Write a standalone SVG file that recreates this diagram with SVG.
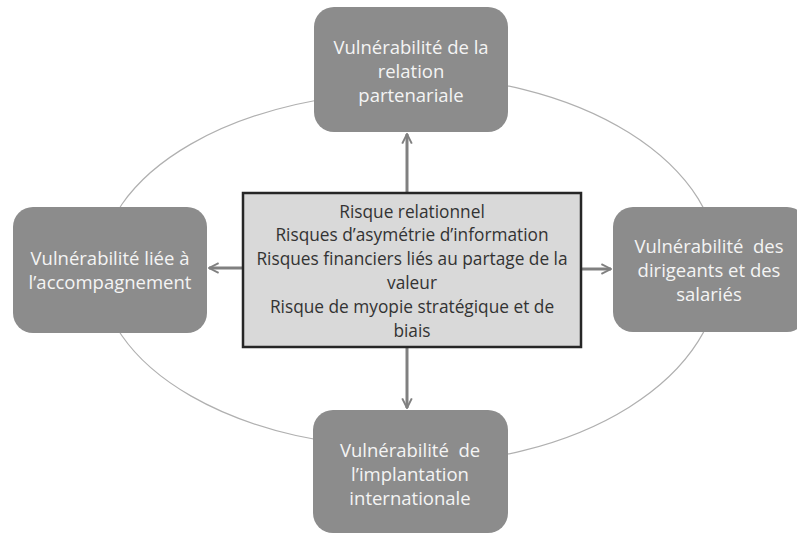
<svg xmlns="http://www.w3.org/2000/svg" width="797" height="535" viewBox="0 0 797 535">
<style>
.box{fill:#8c8c8c;}
.bt{font-family:"Open Sans","Liberation Sans",sans-serif;font-size:18.5px;fill:#f4f4f4;text-anchor:middle;}
.ct{font-family:"Open Sans","Liberation Sans",sans-serif;font-size:17.3px;fill:#333;text-anchor:middle;}
.orbit{fill:none;stroke:#b0b0b0;stroke-width:1.2;}
.arr{fill:none;stroke:#808080;stroke-width:3;marker-end:url(#chev);}
</style>
<defs>
<marker id="chev" viewBox="0 0 10 10" refX="9" refY="5" markerWidth="4" markerHeight="4" orient="auto" markerUnits="strokeWidth">
<path d="M1,1 L9,5 L1,9" fill="none" stroke="#808080" stroke-width="1.6"/>
</marker>
</defs>
<rect width="797" height="535" fill="#fff"/>
<g id="orbit">
<path class="orbit" d="M410,92 A310,178 0 0 0 410,448"/>
<path class="orbit" d="M410,76 A310,194 0 0 1 410,464"/>
</g>
<g id="connectors">
<line class="arr" x1="407" y1="192" x2="407" y2="134"/>
<line class="arr" x1="407" y1="348" x2="407" y2="408"/>
<line class="arr" x1="242" y1="268" x2="209" y2="268"/>
<line class="arr" x1="582" y1="269" x2="611" y2="269"/>
</g>
<g id="top">
<rect class="box" x="314" y="7" width="194" height="125" rx="20"/>
<text class="bt" x="411" y="54">Vulnérabilité de la</text>
<text class="bt" x="411" y="78">relation</text>
<text class="bt" x="411" y="102">partenariale</text>
</g>
<g id="left">
<rect class="box" x="13" y="207" width="194" height="126" rx="20"/>
<text class="bt" x="110" y="265">Vulnérabilité liée à</text>
<text class="bt" x="110" y="289">l’accompagnement</text>
</g>
<g id="right">
<rect class="box" x="613" y="207" width="194" height="125" rx="20"/>
<text class="bt" x="709" y="253" xml:space="preserve">Vulnérabilité  des</text>
<text class="bt" x="709" y="277">dirigeants et des</text>
<text class="bt" x="709" y="301">salariés</text>
</g>
<g id="bottom">
<rect class="box" x="313" y="410" width="195" height="123" rx="20"/>
<text class="bt" x="410" y="457" xml:space="preserve">Vulnérabilité  de</text>
<text class="bt" x="410" y="481">l’implantation</text>
<text class="bt" x="410" y="505">internationale</text>
</g>
<g id="center">
<rect x="243" y="193" width="338" height="154" fill="#d9d9d9" stroke="#262626" stroke-width="2.5"/>
<text class="ct" x="412" y="218">Risque relationnel</text>
<text class="ct" x="412" y="241">Risques d’asymétrie d’information</text>
<text class="ct" x="412" y="265">Risques financiers liés au partage de la</text>
<text class="ct" x="412" y="289">valeur</text>
<text class="ct" x="412" y="313">Risque de myopie stratégique et de</text>
<text class="ct" x="412" y="337">biais</text>
</g>
</svg>
